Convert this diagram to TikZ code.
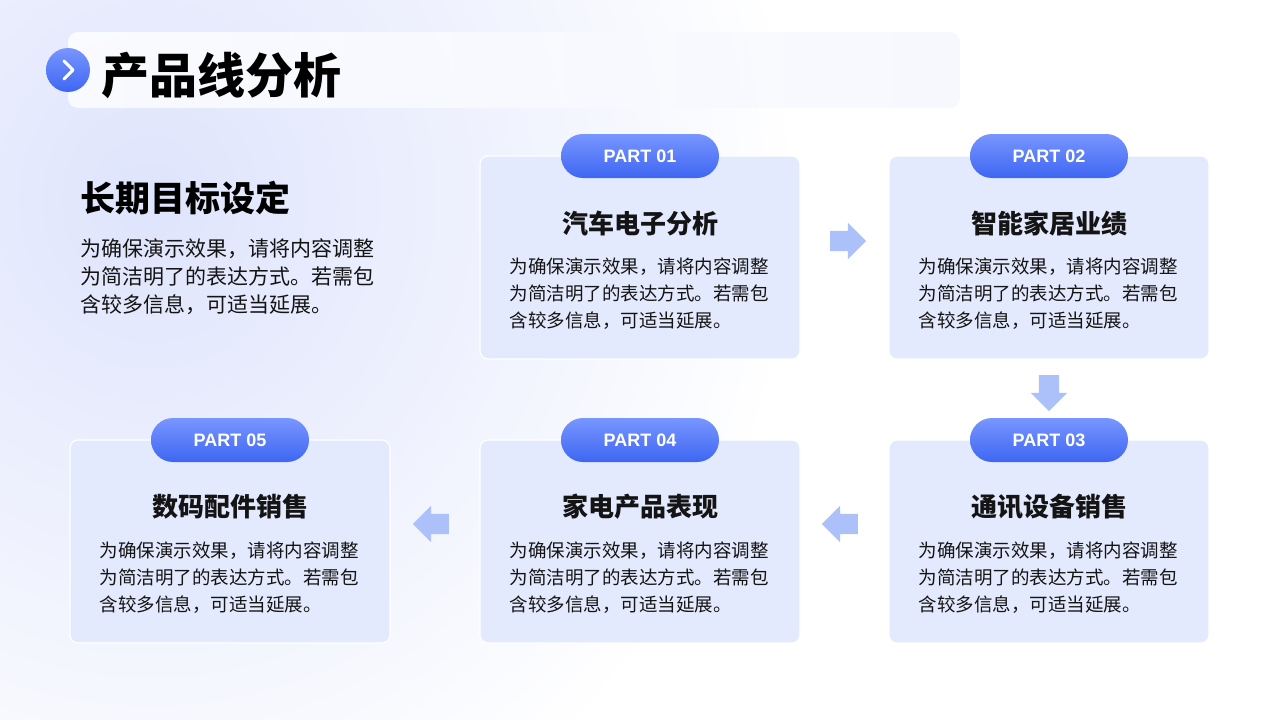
\documentclass[tikz,border=0pt]{standalone}
\usepackage{fontspec}
\setmainfont{Liberation Sans}
\newfontfamily\cjk{Noto Sans CJK SC}
\usetikzlibrary{arrows.meta, positioning, shapes.arrows}
\definecolor{bgblue}{RGB}{222,228,252}
\definecolor{cardblue}{RGB}{228,234,254}
\definecolor{pilltop}{RGB}{120,150,255}
\definecolor{pillbot}{RGB}{62,102,242}
\definecolor{arrowblue}{RGB}{172,192,250}
\definecolor{inkdark}{RGB}{20,20,20}
\tikzset{
  card/.style={draw=white, line width=1.2pt, fill=cardblue, rounded corners=8pt},
  pill/.style={rounded corners=22pt, minimum width=158pt, minimum height=44pt,
    top color=pilltop, bottom color=pillbot, text=white, font=\fontsize{18}{20}\selectfont\bfseries},
  cardtitle/.style={font=\cjk\fontsize{26}{30}\selectfont\bfseries, text=inkdark},
  cardtext/.style={font=\cjk\fontsize{18.5}{27}\selectfont, text=inkdark, align=left, anchor=north west},
  flowarrow/.style={single arrow, fill=arrowblue, inner sep=10pt, minimum height=36pt,
    single arrow head extend=8pt, single arrow head indent=0pt}
}
\newcommand{\bodytext}{为确保演示效果，请将内容调整\\为简洁明了的表达方式。若需包\\含较多信息，可适当延展。}
\begin{document}
\begin{tikzpicture}[x=1pt, y=-1pt]
  \useasboundingbox (0,0) rectangle (1280,720);
  % background
  \fill[white] (0,0) rectangle (1280,720);
  \shade[inner color=bgblue, outer color=white] (-500,-500) rectangle (800,900);
  % title bar
  \shade[left color=white, right color=bgblue!30, opacity=0.8, rounded corners=10pt] (68,32) rectangle (960,108);
  \shade[top color=pilltop, bottom color=pillbot] (68,70) circle (22);
  \draw[white, line width=3pt, line cap=round, line join=round] (64,61) -- (73,70) -- (64,79);
  \node[anchor=west, font=\cjk\fontsize{48}{52}\selectfont\bfseries, text=black] (title) at (98,75) {产品线分析};
  % intro
  \node[anchor=west, font=\cjk\fontsize{35}{38}\selectfont\bfseries, text=black] (goal) at (77,198) {长期目标设定};
  \node[cardtext, font=\cjk\fontsize{21}{28}\selectfont] (goaltext) at (77,235) {\bodytext};
  % cards
  \foreach \x/\y/\n/\t in {480/156/01/汽车电子分析, 889/156/02/智能家居业绩, 889/440/03/通讯设备销售,
                           480/440/04/家电产品表现, 70/440/05/数码配件销售} {
    \draw[card] (\x,\y) rectangle ++(320,203);
    \node[pill] (part\n) at (\x+160,\y) {PART \n};
    \node[cardtitle] (head\n) at (\x+160,\y+67) {\t};
    \node[cardtext] (text\n) at (\x+26,\y+98) {\bodytext};
  }
  % flow arrows
  \node[flowarrow] (go12) at (843,241) {};
  \node[flowarrow, rotate=-90] (go23) at (1049,388) {};
  \node[flowarrow, rotate=180] (go34) at (845,524) {};
  \node[flowarrow, rotate=180] (go45) at (436,524) {};
\end{tikzpicture}
\end{document}
